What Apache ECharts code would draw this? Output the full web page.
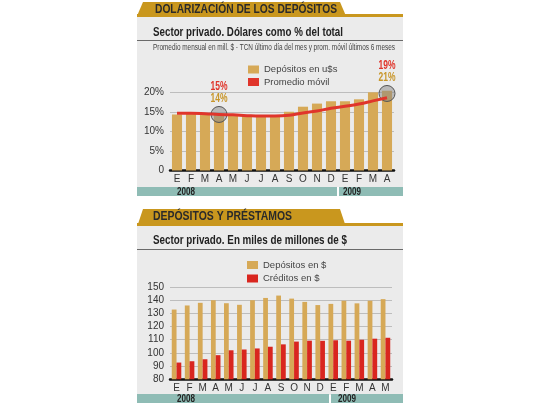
<!DOCTYPE html>
<html><head><meta charset="utf-8">
<script src="https://cdn.jsdelivr.net/npm/echarts@6/dist/echarts.min.js"></script>
<style>html,body{margin:0;padding:0;background:#fff}#c{width:540px;height:405px}</style>
</head><body><div id="c"></div><script>
// ---- data ----
const monthsTop = ['E','F','M','A','M','J','J','A','S','O','N','D','E','F','M','A'];
const depUsdPct = [14.4,14.7,14.7,14.5,14.4,14.1,14.1,14.1,15.1,16.4,17.2,17.8,17.8,18.3,20.1,20.5];
const movilPct  = [14.7,14.7,14.6,14.4,14.3,14.1,14.0,14.0,14.2,14.8,15.3,16.0,16.5,17.1,17.9,18.7];
const highlightIdx = [3,15];
const highlightVal = [14.4,19.8];
const highlightMovil = ['15%','19%'];
const highlightDep = ['14%','21%'];
const topYTicks = [0,5,10,15,20];
const monthsBottom = ['E','F','M','A','M','J','J','A','S','O','N','D','E','F','M','A','M'];
const depPesos  = [132.9,136.0,138.0,140.0,137.7,136.5,140.0,141.7,143.5,141.2,138.7,136.3,137.2,139.6,137.6,139.6,140.8];
const credPesos = [92.7,93.7,95.2,98.3,102.0,102.6,103.4,104.7,106.5,108.6,109.3,109.2,109.6,109.3,110.0,110.8,111.5];
const bottomYTicks = [80,90,100,110,120,130,140,150];
const years = ['2008','2009'];
const titleTop = 'DOLARIZACIÓN DE LOS DEPÓSITOS';
const subTop = 'Sector privado. Dólares como % del total';
const noteTop = 'Promedio mensual en mill. $ - TCN último día del mes y prom. móvil últimos 6 meses';
const titleBottom = 'DEPÓSITOS Y PRÉSTAMOS';
const subBottom = 'Sector privado. En miles de millones de $';
const namesTop = ['Depósitos en u$s','Promedio móvil'];
const namesBottom = ['Depósitos en $','Créditos en $'];

// ---- style ----
const GOLD = '#d6a957', RED = '#d9261f', LINE = '#e0352b', TAB = '#c9971e', TEAL = '#8fbcb5', PANEL = '#ebebeb';
const FONT = "'Liberation Sans', Arial, sans-serif";
const ctx = document.createElement('canvas').getContext('2d');
function fit(text, font, w){ ctx.font = font; return Math.min(1, w / ctx.measureText(text).width); }
function txt(text, x, y, font, w, color, align){
  align = align || 'left';
  return {type:'text', x, y, scaleX: fit(text, font, w), z: 10,
    style:{text, font, fill: color, align, verticalAlign:'middle', textAlign:align, textVerticalAlign:'middle'}};
}
const BF = "bold 13px " + FONT;
const HF = "bold 12.5px " + FONT;
const SF = "9px " + FONT;
const YF = "bold 10px " + FONT;
const AF = "bold 12px " + FONT;

const graphics = [
  // top panel
  {type:'rect', shape:{x:137,y:16,width:266,height:171}, style:{fill:PANEL}, z:-5},
  {type:'polygon', shape:{points:[[143,2],[340,2],[346,16],[137,16]]}, style:{fill:TAB}, z:-4},
  {type:'rect', shape:{x:137,y:14,width:266,height:3}, style:{fill:TAB}, z:-4},
  {type:'line', shape:{x1:137,y1:40.5,x2:403,y2:40.5}, style:{stroke:'#6a6a6a', lineWidth:1}, z:-4},
  {type:'rect', shape:{x:137,y:187,width:200,height:9}, style:{fill:TEAL}, z:-4},
  {type:'rect', shape:{x:339,y:187,width:64,height:9}, style:{fill:TEAL}, z:-4},
  txt(titleTop, 155, 10, HF, 182, '#2a2a2a'),
  txt(subTop, 153, 32.5, BF, 190, '#222'),
  txt(noteTop, 153, 48, SF, 242, '#444'),
  txt(years[0], 177, 191.8, YF, 18, '#222'),
  txt(years[1], 343, 191.8, YF, 18, '#222'),
  // bottom panel
  {type:'rect', shape:{x:137,y:225,width:266,height:170}, style:{fill:PANEL}, z:-5},
  {type:'polygon', shape:{points:[[143,209],[340,209],[345,224],[138,224]]}, style:{fill:TAB}, z:-4},
  {type:'rect', shape:{x:137,y:223,width:266,height:3}, style:{fill:TAB}, z:-4},
  {type:'line', shape:{x1:137,y1:249.5,x2:403,y2:249.5}, style:{stroke:'#6a6a6a', lineWidth:1}, z:-4},
  {type:'rect', shape:{x:137,y:394,width:192,height:9}, style:{fill:TEAL}, z:-4},
  {type:'rect', shape:{x:331,y:394,width:72,height:9}, style:{fill:TEAL}, z:-4},
  txt(titleBottom, 153, 217, HF, 139, '#2a2a2a'),
  txt(subBottom, 153, 240, BF, 194, '#222'),
  txt(years[0], 177, 398.8, YF, 18, '#222'),
  txt(years[1], 338, 398.8, YF, 18, '#222')
];

const axisLabelStyle = {color:'#333', fontSize:10, fontFamily:FONT};
const legendText = {fontSize:9.5, color:'#444', lineHeight:11, fontFamily:FONT};
const chart = echarts.init(document.getElementById('c'), null, {renderer:'canvas'});
chart.setOption({
  animation:false,
  backgroundColor:'#fff',
  textStyle:{fontFamily:FONT},
  graphic:{elements:graphics},
  legend:[
    {data:namesTop.map(n=>({name:n, icon:'rect'})), left:248, top:64, orient:'vertical', padding:0,
     itemWidth:11, itemHeight:8, itemGap:1.5, selectedMode:false, textStyle:legendText},
    {data:namesBottom.map(n=>({name:n, icon:'rect'})), left:247, top:259.5, orient:'vertical', padding:0,
     itemWidth:11, itemHeight:8, itemGap:2.5, selectedMode:false, textStyle:legendText}
  ],
  grid:[
    {left:170, right:146, top:92.7, bottom:234.5},
    {left:170, right:148, top:287, bottom:25.7}
  ],
  xAxis:[
    {type:'category', gridIndex:0, data:monthsTop, axisTick:{show:false},
     axisLine:{lineStyle:{color:'#111', width:2.5}}, axisLabel:{...axisLabelStyle, margin:4}},
    {type:'category', gridIndex:1, data:monthsBottom, axisTick:{show:false},
     axisLine:{lineStyle:{color:'#111', width:2.5}}, axisLabel:{...axisLabelStyle, margin:4}}
  ],
  yAxis:[
    {type:'value', gridIndex:0, min:topYTicks[0], max:topYTicks[topYTicks.length-1], interval:5,
     axisLine:{show:false}, axisTick:{show:false},
     axisLabel:{...axisLabelStyle, margin:6, formatter:v=>v===0?'0':v+'%'},
     splitLine:{lineStyle:{color:'#bdbdbd', width:1}}},
    {type:'value', gridIndex:1, min:bottomYTicks[0], max:bottomYTicks[bottomYTicks.length-1], interval:10,
     axisLine:{show:false}, axisTick:{show:false},
     axisLabel:{...axisLabelStyle, margin:6},
     splitLine:{lineStyle:{color:'#bdbdbd', width:1}}}
  ],
  series:[
    {name:namesTop[0], type:'bar', xAxisIndex:0, yAxisIndex:0, data:depUsdPct, clip:false,
     barCategoryGap:'28%', itemStyle:{color:GOLD}},
    {name:namesTop[1], type:'line', xAxisIndex:0, yAxisIndex:0, data:movilPct, smooth:true, symbol:'none', clip:false,
     lineStyle:{color:LINE, width:3}, itemStyle:{color:LINE}, z:5,
     markPoint:{symbol:'circle', symbolSize:16, label:{show:false},
       itemStyle:{color:'rgba(135,135,135,0.5)', borderColor:'#555', borderWidth:1},
       data: highlightIdx.map((i,k)=>({coord:[i, highlightVal[k]]}))}},
    {name:namesBottom[0], type:'bar', xAxisIndex:1, yAxisIndex:1, data:depPesos,
     barGap:'0%', barCategoryGap:'27%', itemStyle:{color:GOLD}},
    {name:namesBottom[1], type:'bar', xAxisIndex:1, yAxisIndex:1, data:credPesos,
     barGap:'0%', barCategoryGap:'27%', itemStyle:{color:RED}}
  ]
});

// annotation labels placed through the chart's own scales
const annot = [];
highlightIdx.forEach((i,k)=>{
  const p = chart.convertToPixel({xAxisIndex:0, yAxisIndex:0}, [i, highlightVal[k]]);
  annot.push(txt(highlightMovil[k], p[0], p[1]-27.5, AF, 17, LINE, 'center'));
  annot.push(txt(highlightDep[k], p[0], p[1]-15.8, AF, 17, '#c8962a', 'center'));
});
chart.setOption({graphic:{elements:graphics.concat(annot)}});
</script></body></html>
